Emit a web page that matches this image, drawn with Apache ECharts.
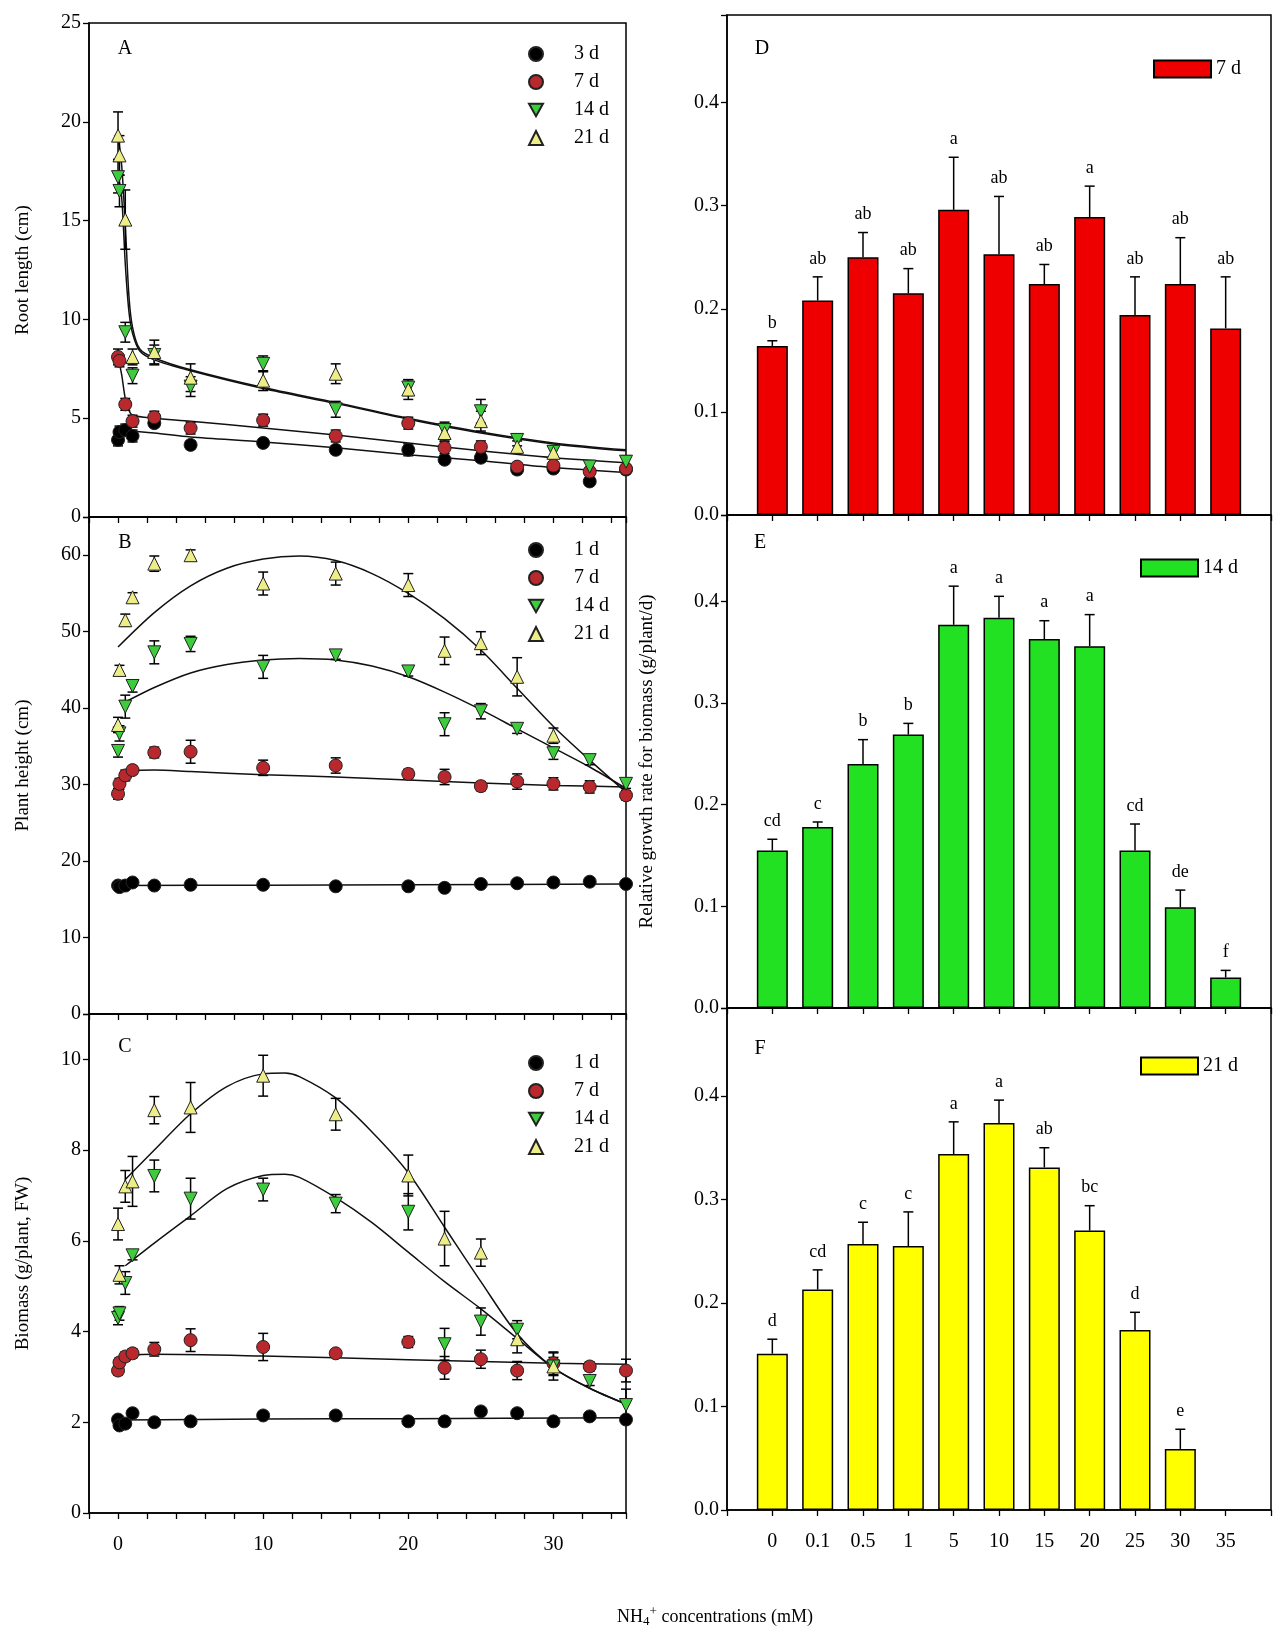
<!DOCTYPE html>
<html>
<head>
<meta charset="utf-8">
<script src="https://cdn.jsdelivr.net/npm/echarts@6/dist/echarts.min.js"></script>
<style>html,body{margin:0;padding:0;background:#fff}#main{width:1274px;height:1636px}</style>
</head>
<body>
<div id="main"></div>
<script>
// NH4+ concentrations used in the scatter panels (mM)
var conc = [0, 0.1, 0.5, 1, 2.5, 5, 10, 15, 20, 22.5, 25, 27.5, 30, 32.5, 35];

// A - root length (cm)
var rootLen3d = [3.9, 4.3, 4.4, 4.1, 4.75, 3.65, 3.75, 3.4, 3.4, 2.9, 3.0, 2.4, 2.45, 1.8, 2.4];
var rootLen3dErr = [0.3, 0.3, 0.3, 0.3, 0.2, 0.2, 0.2, 0.2, 0.3, 0.2, 0.2, 0.2, 0.2, 0.2, 0.2];
var rootLen7d = [8.1, 7.9, 5.7, 4.85, 5.05, 4.5, 4.9, 4.1, 4.75, 3.5, 3.55, 2.55, 2.6, 2.3, 2.45];
var rootLen7dErr = [0.4, 0.3, 0.3, 0.3, 0.3, 0.3, 0.3, 0.3, 0.3, 0.3, 0.3, 0.2, 0.2, 0.2, 0.2];
var rootLen14d = [17.2, 16.5, 9.35, 7.15, 8.2, 6.6, 7.75, 5.45, 6.55, 4.4, 5.35, 3.9, 3.3, 2.55, 2.8];
var rootLen14dErr = [0.8, 0.8, 0.5, 0.4, 0.5, 0.5, 0.4, 0.4, 0.4, 0.4, 0.6, 0.3, 0.3, 0.3, 0.3];
var rootLen21d = [19.3, 18.3, 15.05, 8.1, 8.35, 7.05, 6.9, 7.25, 6.45, 4.25, 4.85, 3.55, 3.25, null, null];
var rootLen21dErr = [1.2, 1.0, 1.5, 0.4, 0.6, 0.7, 0.5, 0.5, 0.5, 0.4, 0.5, 0.3, 0.3, 0, 0];
var fitRoot3d = [[0,4.4],[2.5,4.25],[5,4.05],[10,3.8],[15,3.5],[20,3.15],[25,2.85],[30,2.5],[35,2.25]];
var fitRoot7d = [[0,8.1],[0.25,7.2],[0.5,6.0],[0.75,5.4],[1,5.15],[2.5,5.0],[5,4.85],[10,4.5],[15,4.15],[20,3.75],[25,3.35],[30,3.0],[35,2.75]];
var fitRoot14d = [[0,17.3],[0.25,16.2],[0.5,12.8],[0.75,10.4],[1,9.3],[1.5,8.4],[2.5,7.95],[5,7.4],[10,6.5],[15,5.75],[20,4.95],[25,4.25],[30,3.7],[35,3.35]];
var fitRoot21d = [[0,19.3],[0.25,17.8],[0.5,14.8],[0.75,11.2],[1,9.6],[1.5,8.5],[2.5,8.05],[5,7.45],[10,6.55],[15,5.8],[20,5.0],[25,4.3],[30,3.75],[35,3.4]];

// B - plant height (cm)
var height1d = [16.8, 16.6, 16.8, 17.2, 16.8, 16.9, 16.9, 16.7, 16.7, 16.5, 17.0, 17.1, 17.2, 17.3, 17.0];
var height1dErr = [0.3, 0.3, 0.3, 0.3, 0.3, 0.3, 0.3, 0.3, 0.3, 0.3, 0.3, 0.3, 0.3, 0.3, 0.3];
var height7d = [28.8, 30.1, 31.2, 31.9, 34.2, 34.3, 32.2, 32.5, 31.4, 31.0, 29.8, 30.4, 30.1, 29.7, 28.6];
var height7dErr = [0.7, 0.7, 0.7, 0.5, 0.7, 1.5, 1.0, 1.0, 0.6, 1.0, 0.6, 1.0, 0.8, 0.8, 0.6];
var height14d = [34.4, 36.7, 40.2, 42.9, 47.3, 48.4, 45.4, 46.9, 44.8, 37.9, 39.6, 37.3, 34.1, 33.2, 30.1];
var height14dErr = [0.8, 1.0, 1.5, 0.8, 1.5, 1.0, 1.5, 0.5, 0.6, 1.5, 1.0, 0.6, 0.8, 0.6, 0.6];
var height21d = [37.8, 45.0, 51.5, 54.5, 58.9, 60.0, 56.3, 57.6, 56.1, 47.5, 48.5, 44.1, 36.4, null, null];
var height21dErr = [1.0, 0.6, 0.8, 0.6, 1.0, 0.7, 1.5, 1.5, 1.5, 1.8, 1.5, 2.5, 1.0, 0, 0];
var fitHeight1d = [[0,16.8],[10,16.85],[20,16.9],[35,17.0]];
var fitHeight7d = [[0,28.8],[0.25,30.6],[0.5,31.3],[1,31.8],[2.5,31.9],[5,31.7],[10,31.3],[15,31.0],[20,30.6],[25,30.2],[30,29.9],[35,29.7]];
var fitHeight14d = [[0.5,40.8],[2.5,42.7],[5,44.6],[7.5,45.7],[10,46.3],[12.5,46.5],[15,46.3],[17.5,45.5],[20,44.1],[22.5,42.1],[25,39.8],[27.5,37.3],[30,34.8],[32.5,32.3],[35,29.5]];
var fitHeight21d = [[0,48.0],[2.5,52.5],[5,56.0],[7.5,58.3],[10,59.5],[12.5,59.9],[15,59.3],[17.5,57.6],[20,55.0],[22.5,51.7],[25,47.6],[27.5,42.6],[30,37.6],[32.5,33.2],[35,29.0]];

// C - biomass (g/plant, FW)
var biomass1d = [2.06, 1.93, 1.97, 2.2, 2.0, 2.02, 2.15, 2.15, 2.02, 2.02, 2.24, 2.2, 2.02, 2.13, 2.06];
var biomass1dErr = [0.08, 0.08, 0.08, 0.08, 0.08, 0.08, 0.08, 0.08, 0.08, 0.08, 0.08, 0.08, 0.08, 0.08, 0.08];
var biomass7d = [3.14, 3.32, 3.45, 3.52, 3.61, 3.81, 3.66, 3.52, 3.77, 3.2, 3.39, 3.14, 3.3, 3.23, 3.14];
var biomass7dErr = [0.1, 0.1, 0.1, 0.1, 0.15, 0.25, 0.3, 0.08, 0.12, 0.25, 0.2, 0.2, 0.25, 0.1, 0.25];
var biomass14d = [4.3, 4.4, 5.07, 5.68, 7.43, 6.93, 7.13, 6.82, 6.64, 3.72, 4.22, 4.04, 3.23, 2.91, 2.38];
var biomass14dErr = [0.15, 0.15, 0.25, 0.1, 0.35, 0.45, 0.25, 0.2, 0.4, 0.35, 0.3, 0.2, 0.2, 0.1, 0.35];
var biomass21d = [6.37, 5.25, 7.2, 7.31, 8.88, 8.94, 9.64, 8.79, 7.44, 6.05, 5.74, 3.83, 3.23, null, null];
var biomass21dErr = [0.35, 0.2, 0.35, 0.55, 0.3, 0.55, 0.45, 0.35, 0.45, 0.6, 0.3, 0.3, 0.3, 0, 0];
var fitBiomass1d = [[0,2.05],[10,2.07],[20,2.08],[35,2.1]];
var fitBiomass7d = [[0,3.2],[0.5,3.38],[1,3.47],[2.5,3.5],[10,3.46],[20,3.38],[30,3.3],[35,3.28]];
var fitBiomass14d = [[0.5,5.45],[2.5,5.95],[5,6.55],[7.5,7.15],[10,7.44],[11.5,7.47],[12.5,7.4],[15,6.95],[17.5,6.4],[20,5.75],[22.5,5.1],[25,4.5],[27.5,3.85],[30,3.2],[32.5,2.75],[35,2.4]];
var fitBiomass21d = [[0.5,7.35],[2.5,8.0],[5,8.8],[7.5,9.4],[10,9.68],[11.5,9.7],[12.5,9.62],[15,9.15],[17.5,8.4],[20,7.5],[22.5,6.3],[25,5.1],[27.5,3.95],[30,3.2],[32.5,2.75],[35,2.4]];

// D-F - relative growth rate for biomass (g/plant/d)
var rgrCats = ['0', '0.1', '0.5', '1', '5', '10', '15', '20', '25', '30', '35'];
var rgr7d = [0.164, 0.208, 0.250, 0.215, 0.296, 0.253, 0.224, 0.289, 0.194, 0.224, 0.181];
var rgr7dErr = [0.005, 0.023, 0.024, 0.024, 0.051, 0.056, 0.019, 0.030, 0.037, 0.045, 0.050];
var rgr7dLetters = ['b', 'ab', 'ab', 'ab', 'a', 'ab', 'ab', 'a', 'ab', 'ab', 'ab'];
var rgr14d = [0.155, 0.178, 0.240, 0.269, 0.377, 0.384, 0.363, 0.356, 0.155, 0.099, 0.030];
var rgr14dErr = [0.011, 0.005, 0.024, 0.011, 0.038, 0.021, 0.018, 0.031, 0.026, 0.017, 0.007];
var rgr14dLetters = ['cd', 'c', 'b', 'b', 'a', 'a', 'a', 'a', 'cd', 'de', 'f'];
var rgr21d = [0.151, 0.213, 0.257, 0.255, 0.344, 0.374, 0.331, 0.270, 0.174, 0.059, null];
var rgr21dErr = [0.014, 0.019, 0.021, 0.033, 0.031, 0.022, 0.019, 0.024, 0.017, 0.019, null];
var rgr21dLetters = ['d', 'cd', 'c', 'c', 'a', 'a', 'ab', 'bc', 'd', 'e', ''];

var serif = 'Liberation Serif';
var downTri = 'path://M0,0 L10,0 L5,9 Z';

function xy(ys){
	var out = [];
	for(var i = 0; i < conc.length; i++){
		if(ys[i] != null) out.push([conc[i], ys[i]]);
	}
	return out;
}
function xyErr(ys, errs){
	var out = [];
	for(var i = 0; i < conc.length; i++){
		if(ys[i] != null && errs[i]) out.push([conc[i], ys[i], errs[i]]);
	}
	return out;
}

function errRender(params, api){
	var x = api.value(0), y = api.value(1), e = api.value(2);
	var lo = api.coord([x, y - e]), hi = api.coord([x, y + e]);
	var c = 5;
	var st = {stroke: '#000', lineWidth: 1.5};
	return {type: 'group', children: [
		{type: 'line', shape: {x1: lo[0], y1: lo[1], x2: hi[0], y2: hi[1]}, style: st},
		{type: 'line', shape: {x1: lo[0] - c, y1: lo[1], x2: lo[0] + c, y2: lo[1]}, style: st},
		{type: 'line', shape: {x1: hi[0] - c, y1: hi[1], x2: hi[0] + c, y2: hi[1]}, style: st}
	]};
}

function barErrRender(params, api, letter){
	var i = api.value(0), v = api.value(1), e = api.value(2);
	var base = api.coord([i, v]), top = api.coord([i, v + e]);
	var st = {stroke: '#000', lineWidth: 1.5};
	return {type: 'group', children: [
		{type: 'line', shape: {x1: base[0], y1: base[1], x2: top[0], y2: top[1]}, style: st},
		{type: 'line', shape: {x1: top[0] - 5, y1: top[1], x2: top[0] + 5, y2: top[1]}, style: st},
		{type: 'text', style: {text: letter, x: top[0], y: top[1] - 9, align: 'center', verticalAlign: 'bottom',
			font: '18px "Liberation Serif"', fill: '#000'}}
	]};
}

var markerStyles = {
	black: {symbol: 'circle', color: '#000000'},
	red: {symbol: 'circle', color: '#b8282c'},
	green: {symbol: downTri, color: '#3ccc3c'},
	yellow: {symbol: 'triangle', color: '#eeee88'}
};

var series = [];
function addPanel(grid, name, ys, errs, fit, style){
	series.push({
		type: 'line', xAxisIndex: grid, yAxisIndex: grid, data: fit, showSymbol: false, smooth: 0.3,
		lineStyle: {color: '#111', width: 1.5}, z: 2, silent: true
	});
	series.push({
		type: 'custom', xAxisIndex: grid, yAxisIndex: grid, data: xyErr(ys, errs), renderItem: errRender, z: 3, silent: true
	});
	series.push({
		type: 'scatter', name: name, xAxisIndex: grid, yAxisIndex: grid, data: xy(ys),
		symbol: style.symbol, symbolSize: 13,
		itemStyle: {color: style.color, borderColor: '#222', borderWidth: 1, opacity: 1}, z: 4
	});
}

addPanel(0, 'A:3 d', rootLen3d, rootLen3dErr, fitRoot3d, markerStyles.black);
addPanel(0, 'A:7 d', rootLen7d, rootLen7dErr, fitRoot7d, markerStyles.red);
addPanel(0, 'A:14 d', rootLen14d, rootLen14dErr, fitRoot14d, markerStyles.green);
addPanel(0, 'A:21 d', rootLen21d, rootLen21dErr, fitRoot21d, markerStyles.yellow);

addPanel(1, 'B:1 d', height1d, height1dErr, fitHeight1d, markerStyles.black);
addPanel(1, 'B:7 d', height7d, height7dErr, fitHeight7d, markerStyles.red);
addPanel(1, 'B:14 d', height14d, height14dErr, fitHeight14d, markerStyles.green);
addPanel(1, 'B:21 d', height21d, height21dErr, fitHeight21d, markerStyles.yellow);

addPanel(2, 'C:1 d', biomass1d, biomass1dErr, fitBiomass1d, markerStyles.black);
addPanel(2, 'C:7 d', biomass7d, biomass7dErr, fitBiomass7d, markerStyles.red);
addPanel(2, 'C:14 d', biomass14d, biomass14dErr, fitBiomass14d, markerStyles.green);
addPanel(2, 'C:21 d', biomass21d, biomass21dErr, fitBiomass21d, markerStyles.yellow);

function addBars(grid, name, vals, errs, letters, color){
	var bars = [], err = [], labels = [];
	for(var i = 0; i < vals.length; i++){
		if(vals[i] == null) continue;
		bars.push([i, vals[i]]);
		err.push([i, vals[i], errs[i]]);
		labels.push(letters[i]);
	}
	series.push({
		type: 'bar', name: name, xAxisIndex: grid, yAxisIndex: grid, data: bars, barWidth: 31,
		itemStyle: {color: color, borderColor: '#000', borderWidth: 1.5}, z: 2
	});
	series.push({
		type: 'custom', xAxisIndex: grid, yAxisIndex: grid, data: err, z: 3, silent: true,
		renderItem: function(params, api){ return barErrRender(params, api, labels[params.dataIndex]); }
	});
}
addBars(3, 'D:7 d', rgr7d, rgr7dErr, rgr7dLetters, '#ee0000');
addBars(4, 'E:14 d', rgr14d, rgr14dErr, rgr14dLetters, '#22e022');
addBars(5, 'F:21 d', rgr21d, rgr21dErr, rgr21dLetters, '#ffff00');

var gridBase = {show: true, borderColor: '#000', borderWidth: 1.5, backgroundColor: 'transparent'};
var grids = [
	Object.assign({left: 89, top: 23, width: 537, height: 494}, gridBase),
	Object.assign({left: 89, top: 517, width: 537, height: 497}, gridBase),
	Object.assign({left: 89, top: 1014, width: 537, height: 499}, gridBase),
	Object.assign({left: 727, top: 15, width: 544, height: 500}, gridBase),
	Object.assign({left: 727, top: 515, width: 544, height: 493}, gridBase),
	Object.assign({left: 727, top: 1008, width: 544, height: 502}, gridBase)
];

var axisLineStyle = {onZero: false, lineStyle: {color: '#000', width: 1.5}};
var tickStyle = {length: 6, lineStyle: {color: '#000', width: 1.3}};
var labelFont = {color: '#000', fontFamily: serif, fontSize: 20};

function leftX(idx, showLabel){
	return {
		type: 'value', gridIndex: idx, min: -2, max: 35, interval: 2,
		axisLine: axisLineStyle, axisTick: tickStyle, splitLine: {show: false},
		axisLabel: Object.assign({show: showLabel, margin: 22, formatter: function(v){
			return (v >= 0 && v < 35 && v % 10 === 0) ? String(v) : '';
		}}, labelFont)
	};
}
function rightX(idx, showLabel){
	return {
		type: 'value', gridIndex: idx, min: -1, max: 11, interval: 1,
		axisLine: axisLineStyle, axisTick: tickStyle, splitLine: {show: false},
		axisLabel: Object.assign({show: showLabel, margin: 22, formatter: function(v){
			return (v >= 0 && v < rgrCats.length) ? rgrCats[v] : '';
		}}, labelFont)
	};
}
function leftY(idx, max, step, name){
	return {
		type: 'value', gridIndex: idx, min: 0, max: max, interval: step,
		name: name, nameLocation: 'middle', nameGap: 56,
		nameTextStyle: {fontFamily: serif, fontSize: 19, color: '#000'},
		axisLine: {show: true, onZero: false, lineStyle: {color: '#000', width: 1.5}},
		axisTick: {show: true, length: 6, lineStyle: {color: '#000', width: 1.3}},
		splitLine: {show: false},
		axisLabel: Object.assign({margin: 8, formatter: function(v){
			return v % step === 0 ? String(v) : '';
		}}, labelFont)
	};
}
function rightY(idx, name){
	return {
		type: 'value', gridIndex: idx, min: 0, max: 0.485, interval: 0.1,
		name: name, nameLocation: 'middle', nameGap: 70,
		nameTextStyle: {fontFamily: serif, fontSize: 19, color: '#000'},
		axisLine: {show: true, onZero: false, lineStyle: {color: '#000', width: 1.5}},
		axisTick: {show: true, length: 6, lineStyle: {color: '#000', width: 1.3}},
		splitLine: {show: false},
		axisLabel: Object.assign({margin: 8, formatter: function(v){
			return Math.abs(v * 10 - Math.round(v * 10)) < 1e-6 ? v.toFixed(1) : '';
		}}, labelFont)
	};
}

function stripPrefix(n){ return n.split(':')[1]; }
function scatterLegend(prefix, names, top){
	return {
		orient: 'vertical', left: 523, top: top, itemWidth: 14, itemHeight: 14, itemGap: 8,
		data: names.map(function(n){ return prefix + ':' + n; }),
		formatter: stripPrefix, selectedMode: false,
		textStyle: {fontFamily: serif, fontSize: 20, color: '#000', lineHeight: 20, padding: [0, 0, 0, 26]}
	};
}
function barLegend(name, left, top){
	return {
		left: left, top: top, itemWidth: 57, itemHeight: 17, icon: 'rect',
		data: [name], formatter: stripPrefix, selectedMode: false,
		textStyle: {fontFamily: serif, fontSize: 20, color: '#000'}
	};
}

function panelLetter(t, x, y){
	return {type: 'text', x: x, y: y, style: {text: t, font: '20px "Liberation Serif"', fill: '#000', align: 'center', verticalAlign: 'middle'}};
}

var option = {
	backgroundColor: '#fff',
	animation: false,
	grid: grids,
	xAxis: [leftX(0, false), leftX(1, false), leftX(2, true), rightX(3, false), rightX(4, false), rightX(5, true)],
	yAxis: [
		leftY(0, 25, 5, 'Root length (cm)'),
		leftY(1, 65, 10, 'Plant height (cm)'),
		leftY(2, 11, 2, 'Biomass (g/plant, FW)'),
		rightY(3, ''),
		rightY(4, 'Relative growth rate for biomass (g/plant/d)'),
		rightY(5, '')
	],
	legend: [
		scatterLegend('A', ['3 d', '7 d', '14 d', '21 d'], 39),
		scatterLegend('B', ['1 d', '7 d', '14 d', '21 d'], 535),
		scatterLegend('C', ['1 d', '7 d', '14 d', '21 d'], 1048),
		barLegend('D:7 d', 1148, 54),
		barLegend('E:14 d', 1135, 553),
		barLegend('F:21 d', 1135, 1051)
	],
	graphic: [
		panelLetter('A', 125, 49),
		panelLetter('B', 125, 543),
		panelLetter('C', 125, 1047),
		panelLetter('D', 762, 49),
		panelLetter('E', 760, 543),
		panelLetter('F', 760, 1049),
		{type: 'text', x: 715, y: 1617, style: {
			text: 'NH{sub|4}{sup|+} concentrations (mM)', font: '18px "Liberation Serif"', fill: '#000',
			align: 'center', verticalAlign: 'middle',
			rich: {
				sub: {fontSize: 13, fontFamily: serif, verticalAlign: 'bottom', padding: [8, 0, 0, 0]},
				sup: {fontSize: 13, fontFamily: serif, verticalAlign: 'top', padding: [0, 0, 10, 0]}
			}
		}}
	],
	series: series
};

var mycharts = echarts.init(document.getElementById('main'));
mycharts.setOption(option);
</script>
</body>
</html>
